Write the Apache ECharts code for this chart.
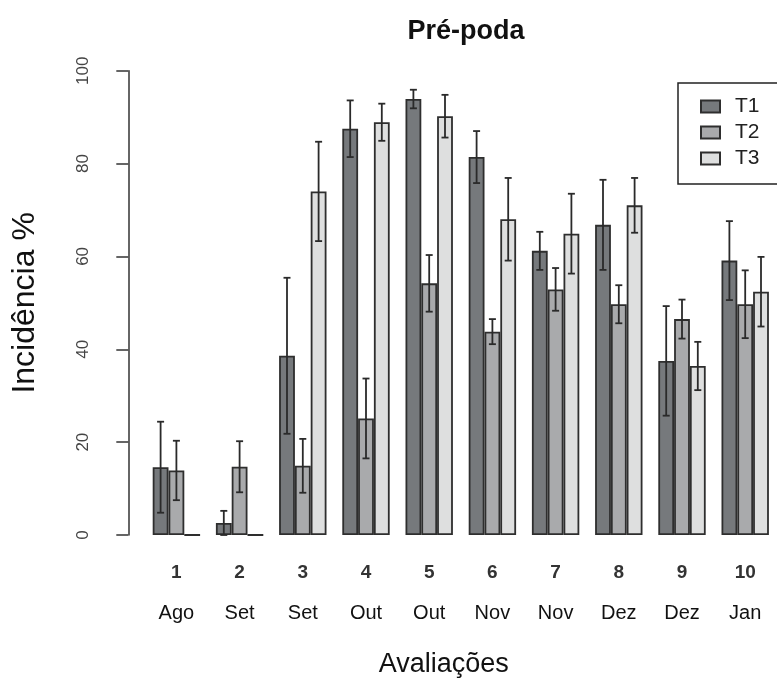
<!DOCTYPE html>
<html>
<head>
<meta charset="utf-8">
<script src="https://cdn.jsdelivr.net/npm/echarts@6/dist/echarts.min.js"></script>
<style>html,body{margin:0;padding:0;background:#fff;}#c{width:777px;height:681px;}</style>
</head>
<body>
<div id="c"></div>
<script>
const categories = ['1','2','3','4','5','6','7','8','9','10'];
const months = ['Ago','Set','Set','Out','Out','Nov','Nov','Dez','Dez','Jan'];
const seriesNames = ['T1','T2','T3'];
const t1 = [14.6, 2.6, 38.6, 87.5, 93.9, 81.4, 61.2, 66.8, 37.5, 59.1];
const t2 = [13.9, 14.7, 14.9, 25.1, 54.2, 43.8, 52.9, 49.7, 46.5, 49.7];
const t3 = [0, 0, 74.0, 88.9, 90.2, 68.0, 64.9, 71.0, 36.4, 52.4];
const e1 = [9.8, 2.6, 16.8, 6.1, 2.0, 5.6, 4.1, 9.7, 11.8, 8.5];
const e2 = [6.4, 5.5, 5.8, 8.6, 6.1, 2.7, 4.6, 4.1, 4.2, 7.3];
const e3 = [0, 0, 10.7, 4.0, 4.6, 8.9, 8.6, 5.9, 5.2, 7.5];
const yTicks = [0, 20, 40, 60, 80, 100];

const fills = ['#76797c', '#a9aaac', '#dedfdf'];
const edge = '#2e2e2e';
const vals = [t1, t2, t3];
const errs = [e1, e2, e3];

const chart = echarts.init(document.getElementById('c'), null, {renderer: 'canvas'});

const barSeries = vals.map((v, k) => ({
  name: seriesNames[k],
  type: 'bar',
  data: v,
  barWidth: 15.8,
  barGap: '0%',
  itemStyle: {color: fills[k], borderColor: edge, borderWidth: 1.8},
  z: 2
}));

const errSeries = vals.map((v, k) => ({
  name: 'err' + k,
  type: 'custom',
  z: 5,
  data: categories.map((c, i) => [i, v[i], errs[k][i]]),
  renderItem: function (params, api) {
    const i = api.value(0), y = api.value(1), e = api.value(2);
    if (!e) return null;
    const bw = api.size([1, 0])[0] / 4;
    const off = (k - 1) * bw;
    const top = api.coord([i, y + e]);
    const bot = api.coord([i, Math.max(0, y - e)]);
    const x = top[0] + off;
    const cap = 3.5;
    const st = {stroke: '#2a2a2a', lineWidth: 1.8};
    return {
      type: 'group',
      children: [
        {type: 'line', shape: {x1: x, y1: top[1], x2: x, y2: bot[1]}, style: st},
        {type: 'line', shape: {x1: x - cap, y1: top[1], x2: x + cap, y2: top[1]}, style: st},
        {type: 'line', shape: {x1: x - cap, y1: bot[1], x2: x + cap, y2: bot[1]}, style: st}
      ]
    };
  }
}));

chart.setOption({
  animation: false,
  backgroundColor: '#fff',
  title: {
    text: 'Pré-poda',
    left: 461,
    textAlign: 'center',
    top: 13,
    textStyle: {fontFamily: 'Liberation Sans, Arial, sans-serif', fontWeight: 'bold', fontSize: 27, color: '#111'}
  },
  legend: {
    data: seriesNames,
    orient: 'vertical',
    left: 678,
    top: 83,
    padding: [13, 40, 15, 22],
    itemGap: 5,
    itemWidth: 19,
    itemHeight: 12,
    icon: 'rect',
    borderColor: '#222',
    borderWidth: 1.5,
    textStyle: {fontFamily: 'Liberation Sans, Arial, sans-serif', fontSize: 21, color: '#222', padding: [0, 0, 0, 10]}
  },
  grid: {left: 144.8, top: 70.7, width: 632, height: 464.3, containLabel: false, outerBoundsMode: 'none'},
  xAxis: {
    type: 'category',
    data: categories,
    axisLine: {show: false},
    axisTick: {show: false},
    axisLabel: {
      margin: 21,
      formatter: function (v, i) { return '{a|' + v + '}\n{b|' + months[i] + '}'; },
      rich: {
        a: {fontFamily: 'Liberation Sans, Arial, sans-serif', fontSize: 19, fontWeight: 'bold', color: '#333', lineHeight: 34},
        b: {fontFamily: 'Liberation Sans Narrow, Liberation Sans, Arial, sans-serif', fontSize: 20, color: '#111', lineHeight: 46}
      }
    },
    name: 'Avaliações',
    nameLocation: 'middle',
    nameGap: 116,
    nameTextStyle: {fontFamily: 'Liberation Sans, Arial, sans-serif', fontSize: 27, color: '#111', padding: [0, 34, 0, 0]}
  },
  yAxis: {
    type: 'value',
    min: 0,
    max: 100,
    interval: 20,
    offset: 16.5,
    splitLine: {show: false},
    axisLine: {show: true, lineStyle: {color: '#333', width: 1.5}},
    axisTick: {show: true, length: 12, lineStyle: {color: '#333', width: 1.5}},
    axisLabel: {
      rotate: 90,
      margin: 36,
      fontFamily: 'Liberation Sans, Arial, sans-serif',
      fontSize: 17,
      color: '#444',
      formatter: function (v) { return yTicks.indexOf(v) >= 0 ? String(v) : ''; }
    },
    name: 'Incidência %',
    nameLocation: 'middle',
    nameGap: 87,
    nameTextStyle: {fontFamily: 'Liberation Sans, Arial, sans-serif', fontSize: 32, color: '#111'}
  },
  series: barSeries.concat(errSeries)
});
</script>
</body>
</html>
